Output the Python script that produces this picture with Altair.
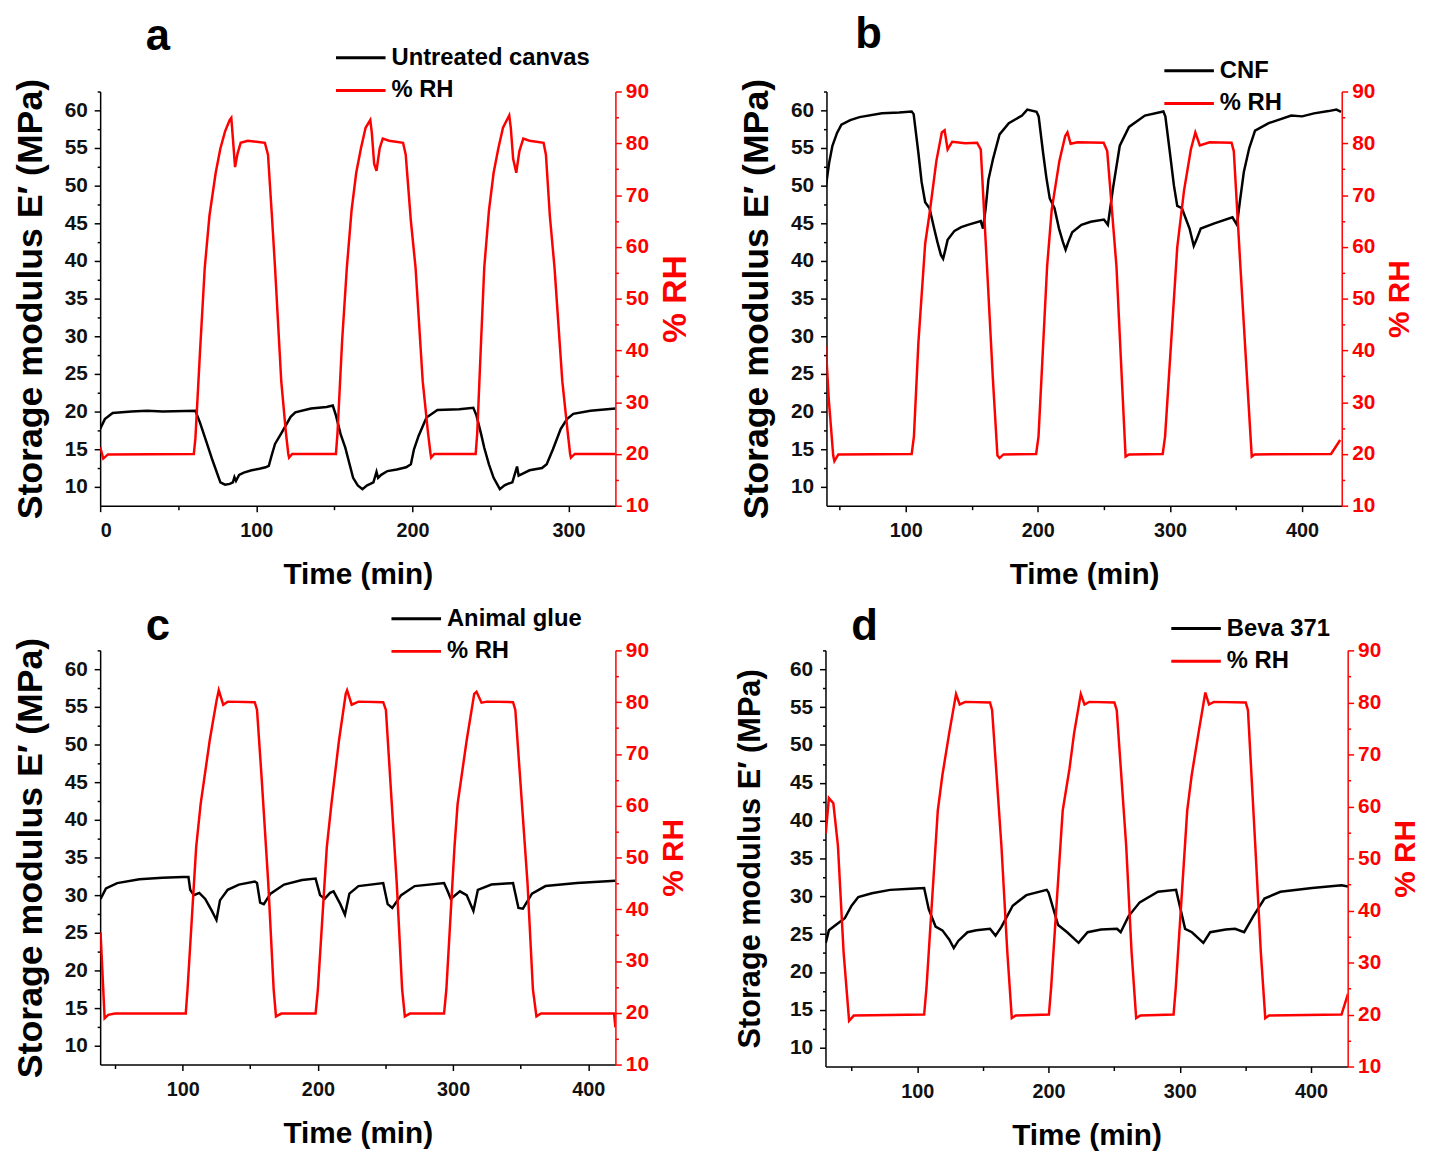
import altair as alt
import pandas as pd

FONT = "Liberation Sans"

# ---------------- Panel a : Untreated canvas ----------------
a_E_t = [0, 3, 8, 20, 30, 40, 61, 64, 68, 72, 77, 80, 83, 85, 86, 87, 89, 92, 97, 102, 106, 108, 110, 112, 116, 119, 122, 125, 135, 145, 149,
         151, 154, 157, 160, 162, 165, 168, 171, 173, 175, 177, 178, 180, 184, 190, 196, 199, 201, 204, 209, 216, 230, 239,
         241, 244, 246, 249, 252, 256, 259, 261, 264, 266, 267, 268, 271, 275, 283, 286, 290, 295, 299, 303, 314, 330]
a_E_v = [17.7, 19.0, 19.8, 20.0, 20.1, 20.0, 20.1, 18.5, 16.0, 13.5, 10.6, 10.3, 10.4, 10.6, 11.3, 10.8, 11.6, 11.9, 12.2, 12.4, 12.6, 12.8, 14.3, 15.7, 17.1, 18.2, 19.3, 19.9, 20.4, 20.6, 20.8,
         19.5, 17.0, 15.2, 12.8, 11.2, 10.2, 9.7, 10.2, 10.4, 10.6, 12.0, 11.2, 11.6, 12.1, 12.3, 12.6, 13.0, 15.0, 16.8, 19.2, 20.2, 20.3, 20.5,
         19.5, 17.0, 15.2, 13.0, 11.2, 9.7, 10.2, 10.4, 10.6, 12.0, 12.7, 11.5, 11.8, 12.2, 12.5, 13.0, 15.0, 17.7, 19.0, 19.7, 20.1, 20.4]
a_RH_t = [0, 2, 5, 60, 61, 64, 67, 70, 74, 77, 80, 83, 84, 85, 86.4, 88, 90, 94.5, 100, 105.5, 107.5, 110, 112, 116, 119, 120.5, 121, 123,
          151, 152, 155, 158, 161, 164, 167, 170, 173, 174, 175.5, 177, 179, 181, 185, 194, 195.7, 199, 202, 206.6, 210, 211.6, 212, 214,
          240.5, 241.5, 244, 246, 249, 252, 255, 258, 262, 263, 264.5, 266.5, 268.5, 271, 275, 284, 285.5, 288, 291, 296, 299.5, 301, 301.5, 304, 330]
a_RH_v = [21.3, 19.1, 19.9, 20.0, 23, 40, 56, 66, 74.3, 79, 82.3, 84.5, 84.9, 81, 75.4, 78, 80.1, 80.5, 80.3, 80.1, 77.8, 66, 56, 34, 24, 20, 19.3, 20,
          20, 24, 42, 56, 67, 74.3, 79, 83, 84.5, 82, 76, 74.7, 79, 80.9, 80.5, 80.1, 77.8, 65, 56, 34, 24, 20, 19.3, 20,
          20, 24, 42, 56, 67, 74.3, 79, 83, 85.4, 83, 77, 74.3, 78.5, 80.9, 80.5, 80.1, 77.8, 66, 56, 34, 24, 20, 19.3, 20, 20]

# ---------------- Panel b : CNF ----------------
b_E_t = [39.5, 42, 44.5, 48, 51.3, 58, 65, 82, 95, 104.5, 106, 109.6, 112, 114.7, 118, 121.5, 124, 126.6, 128.3, 130, 131.7, 136.9, 142, 147, 156.8, 158.5,
         160.5, 162.6, 166, 171, 178, 188, 192, 199, 200.6, 204, 206.5, 209, 212.6, 216, 219, 221, 223, 226, 233, 240, 250, 253,
         257, 262, 269, 281, 295, 296.5, 300, 303, 305.5, 309, 314.8, 318, 320, 323.3, 333.6, 347.3, 350.7,
         353, 355.9, 360, 364.4, 374.7, 391.8, 400, 409, 420, 426, 429.5]
b_E_v = [49.8, 53, 55.3, 57, 58.1, 58.7, 59.1, 59.6, 59.7, 59.85, 59.5, 54.3, 50.5, 47.8, 47, 44.3, 42.5, 40.8, 40.3, 41.5, 42.8, 44.0, 44.5, 44.8, 45.3, 44.3,
         47, 50.8, 53.5, 56.8, 58.3, 59.3, 60.1, 59.8, 59.2, 54.3, 51, 48.3, 47, 44.3, 42.5, 41.5, 42.5, 43.8, 44.8, 45.2, 45.5, 44.8,
         49.8, 55.3, 57.8, 59.3, 59.85, 59.2, 54.3, 50, 47.3, 47, 44.3, 42, 42.8, 44.3, 45, 45.8, 44.8,
         48, 51.8, 55, 57.3, 58.3, 59.3, 59.2, 59.6, 59.9, 60.1, 59.8]
b_RH_t = [39.5, 41.7, 45.1, 46, 49, 104.5, 106.2, 109.6, 114.7, 118, 123.2, 127.3, 129.4, 131.7, 135.2, 145, 154, 156.8, 161.5, 166, 169.4, 171, 174,
          198.7, 200.5, 207, 210.5, 216.3, 220.7, 222.4, 224.8, 230, 249.8, 252.5, 259.5, 263.6, 266.4, 269,
          294.5, 296.3, 305.5, 310.6, 315.8, 319.2, 322.6, 330, 346.6, 348.3, 353.3, 358.4, 361.9, 364, 421.9, 428.8]
b_RH_v = [40.9, 30.7, 19.7, 18.6, 19.9, 20, 23.4, 41.6, 60.6, 66.4, 76.6, 82.1, 82.5, 78.8, 80.3, 80.0, 80.1, 78.8, 56.2, 34.3, 19.7, 19.2, 19.9,
          20, 23.4, 56.2, 67.2, 76.6, 81.4, 82.1, 79.9, 80.2, 80.1, 78.5, 56.2, 34.3, 19.5, 19.9,
          20, 23.4, 59.9, 70.8, 78.8, 82.1, 79.6, 80.2, 80.1, 78.5, 56.2, 34.3, 19.5, 19.9, 20, 22.7]

# ---------------- Panel c : Animal glue ----------------
c_E_t = [39.3, 43.3, 51.6, 68, 85, 100, 104.3, 105.6, 108.3, 112.3, 116.7, 121.6, 125, 127.6, 133.3, 141.6, 153.3, 155, 157.3, 160, 165, 175, 188.3, 198.3,
         201.6, 205, 209, 211.6, 216.6, 220, 223.3, 230, 248.3, 251.6, 255, 261.6, 271.6, 293.3, 296, 298.3, 305, 310, 315, 318.3, 328.3, 344.3,
         348.3, 351.6, 358.3, 368.3, 391.6, 420]
c_E_v = [29.5, 30.9, 31.6, 32.1, 32.3, 32.4, 32.4, 30.7, 30.0, 30.3, 29.5, 27.9, 26.7, 29.3, 30.7, 31.4, 31.8, 31.6, 29.0, 28.8, 30.2, 31.4, 32.0, 32.2,
         30.0, 29.5, 30.3, 30.5, 28.8, 27.4, 30.2, 31.2, 31.6, 28.8, 28.3, 30.0, 31.2, 31.6, 30.5, 29.5, 30.5, 30.0, 27.9, 30.7, 31.4, 31.6,
         28.3, 28.2, 30.2, 31.2, 31.6, 31.9]
c_RH_t = [39.3, 42.3, 45, 50, 102.3, 103.6, 110, 113.3, 120, 125, 126.7, 130, 133.3, 153.3, 155, 158.3, 163.3, 167.3, 169, 173,
          198.3, 200, 206.6, 210, 215.6, 220.6, 221.6, 225, 230, 248.3, 250.3, 258.3, 262.3, 264.3, 268,
          293.3, 295, 301, 303.3, 310, 315.6, 317.3, 321, 325, 344.3, 346, 355, 359, 361.6, 365, 419, 420]
c_RH_v = [35.5, 18.95, 19.6, 19.85, 19.85, 24.5, 52, 60.3, 72.6, 80.2, 82.3, 79.5, 80.1, 80, 78.5, 65.8, 45.1, 24.5, 19.3, 19.85,
          19.85, 24.5, 52, 60.3, 72.6, 81.6, 82.3, 79.5, 80.1, 80, 78.5, 45.1, 24.5, 19.3, 19.85,
          19.85, 24.5, 52, 60.3, 72.6, 81.6, 82.0, 79.9, 80.1, 80, 78.5, 45.1, 24.5, 19.3, 19.85, 19.85, 17.2]

# ---------------- Panel d : Beva 371 ----------------
d_E_t = [30.2, 32.6, 37.8, 44.7, 49.9, 55, 65.4, 79.3, 95, 105.2, 108.7, 113.9, 119.1, 124.3, 127.8, 131.2, 138.2, 145, 155.4, 159.6, 164.1, 172.7, 183.1, 198.6,
         200, 207.3, 214.2, 222.9, 229.8, 240, 252.2, 255, 260.9, 269.5, 283.4, 297.2, 304.1, 309.3, 318, 323.2, 335, 342.2, 349.1,
         356, 364.6, 376.7, 400.9, 423.4, 428.3]
d_E_v = [23.85, 25.5, 26.2, 27.1, 28.75, 29.9, 30.4, 30.85, 31.0, 31.1, 28.3, 26.0, 25.5, 24.3, 23.15, 24.1, 25.25, 25.5, 25.7, 24.8, 25.95, 28.75, 30.15, 30.85,
         30.5, 26.2, 25.25, 23.85, 25.25, 25.6, 25.7, 25.25, 27.35, 29.2, 30.6, 30.85, 25.7, 25.25, 23.85, 25.25, 25.6, 25.7, 25.25,
         27.35, 29.7, 30.6, 31.1, 31.45, 31.3]
d_RH_t = [30.2, 32.6, 36, 39.5, 43.8, 48, 51.6, 105.2, 107, 115.6, 119.1, 124.3, 129.5, 132.3, 136.5, 155.4, 157, 164.1, 168.6, 172, 175,
          200.3, 202, 210.8, 216, 219.5, 224.6, 227.4, 231, 250.2, 252, 259.2, 263.3, 266.8, 270,
          295.3, 297, 305.7, 309.1, 314.3, 319.5, 322.3, 326, 350.3, 352, 357.6, 361.8, 365.2, 368, 423.3, 428.3]
d_RH_v = [54.8, 61.6, 60.6, 52.4, 32, 18.8, 19.8, 20, 25.2, 59.2, 66, 74.1, 81.6, 79.6, 80.1, 80, 78.5, 52.4, 32, 19.3, 19.8,
          20, 25.2, 59.2, 67.3, 74.1, 81.6, 79.6, 80.1, 80, 78.5, 52.4, 32, 19.3, 19.8,
          20, 25.2, 59.2, 66, 74.1, 81.9, 79.6, 80.1, 80, 78.5, 52.4, 32, 19.3, 19.8, 20, 24.0]

E_TICKS = [10, 12.5, 15, 17.5, 20, 22.5, 25, 27.5, 30, 32.5, 35, 37.5, 40, 42.5, 45, 47.5, 50, 52.5, 55, 57.5, 60, 62.5]
RH_TICKS = [10, 15, 20, 25, 30, 35, 40, 45, 50, 55, 60, 65, 70, 75, 80, 85, 90]


def panel(tE, vE, tR, vR, name, letter, xdom, xticks, lx, ly, ytitle_size, ytitle_pad, rh_title_size,
          letter_dx, letter_offset, w, h):
    dfE = pd.DataFrame({"t": tE, "v": vE, "s": name})
    dfR = pd.DataFrame({"t": tR, "v": vR, "s": "% RH"})
    legend = alt.Legend(
        title=None, orient="none", legendX=lx, legendY=ly,
        symbolType="M-5,0H5", symbolSize=100, symbolStrokeWidth=3,
        labelFont=FONT, labelFontSize=24, labelFontWeight="bold", labelColor="#000",
        labelOffset=19, rowPadding=9, labelLimit=400,
    )
    color = alt.Color("s:N", scale=alt.Scale(domain=[name, "% RH"], range=["#000000", "#ff0000"]), legend=legend)
    x = alt.X("t:Q", scale=alt.Scale(domain=xdom, nice=False, zero=False),
              axis=alt.Axis(values=xticks, labelExpr="datum.value % 100 === 0 ? datum.label : ''",
                            title="Time (min)", titleFont=FONT, titleFontSize=30, titleFontWeight="bold",
                            titleColor="#000", titlePadding=20,
                            labelFont=FONT, labelFontSize=20, labelFontWeight="bold", labelColor="#111",
                            domainColor="#000", domainWidth=1.5, tickColor="#000", tickWidth=1.5,
                            tickSize={"condition": {"test": "datum.value % 100 === 0", "value": 6}, "value": 4},
                            grid=False, labelPadding=9))
    left = alt.Chart(dfE).mark_line(strokeWidth=2.5, clip=True).encode(
        x=x,
        y=alt.Y("v:Q", scale=alt.Scale(domain=[7.5, 62.5], nice=False, zero=False),
                axis=alt.Axis(values=E_TICKS, labelExpr="datum.value % 5 === 0 ? datum.label : ''",
                              title="Storage modulus E′ (MPa)", titleFont=FONT, titleFontSize=ytitle_size,
                              titleFontWeight="bold", titleColor="#000", titlePadding=ytitle_pad,
                              labelFont=FONT, labelFontSize=21, labelFontWeight="bold", labelColor="#111",
                              domainColor="#000", domainWidth=1.5, tickColor="#000", tickWidth=1.5,
                              tickSize={"condition": {"test": "datum.value % 5 === 0", "value": 6}, "value": 3},
                              grid=False, labelPadding=7)),
        color=color,
    )
    right = alt.Chart(dfR).mark_line(strokeWidth=2.5, clip=True).encode(
        x=x,
        y=alt.Y("v:Q", scale=alt.Scale(domain=[10, 90], nice=False, zero=False),
                axis=alt.Axis(orient="right", values=RH_TICKS, labelExpr="datum.value % 10 === 0 ? datum.label : ''",
                              title="% RH", titleFont=FONT, titleFontSize=rh_title_size, titleFontWeight="bold",
                              titleColor="#ff0000", titleAngle=270, titleBaseline="top", titlePadding=10,
                              labelFont=FONT, labelFontSize=21, labelFontWeight="bold", labelColor="#ff0000",
                              domainColor="#ff0000", domainWidth=1.5, tickColor="#ff0000", tickWidth=1.5,
                              tickSize={"condition": {"test": "datum.value % 10 === 0", "value": 6}, "value": 3},
                              grid=False, labelPadding=4)),
        color=color,
    )
    return alt.layer(left, right).resolve_scale(y="independent").properties(
        width=w, height=h,
        title=alt.TitleParams(letter, anchor="start", frame="group", dx=letter_dx, font=FONT,
                              fontSize=44, fontWeight="bold", color="#000", offset=letter_offset),
    )


pa = panel(a_E_t, a_E_v, a_RH_t, a_RH_v, "Untreated canvas", "a", [0, 330],
           [0, 50, 100, 150, 200, 250, 300], 251, -46, 36, 15, 34, 46, -13, 520, 418)
pb = panel(b_E_t, b_E_v, b_RH_t, b_RH_v, "CNF", "b", [40, 430],
           [50, 100, 150, 200, 250, 300, 350, 400], 354, -33, 36, 15, 30, 29, 2, 520, 418)
pc = panel(c_E_t, c_E_v, c_RH_t, c_RH_v, "Animal glue", "c", [39, 420],
           [50, 100, 150, 200, 250, 300, 350, 400], 307, -44, 36, 15, 30, 46, -43, 520, 418)
pd_ = panel(d_E_t, d_E_v, d_RH_t, d_RH_v, "Beva 371", "d", [30, 428],
            [50, 100, 150, 200, 250, 300, 350, 400], 362, -34, 31, 23, 30, 26, -33, 527, 420)

chart = alt.vconcat(
    alt.hconcat(pa, pb, spacing=46).resolve_scale(color="independent"),
    alt.hconcat(pc, pd_, spacing=46).resolve_scale(color="independent"),
    spacing=16,
).resolve_scale(color="independent").properties(
    padding={"left": 4, "top": 0, "right": 0, "bottom": 0}, background="white"
).configure_view(stroke=None)

chart.save("out.html", embed_options={"renderer": "svg", "actions": False})
